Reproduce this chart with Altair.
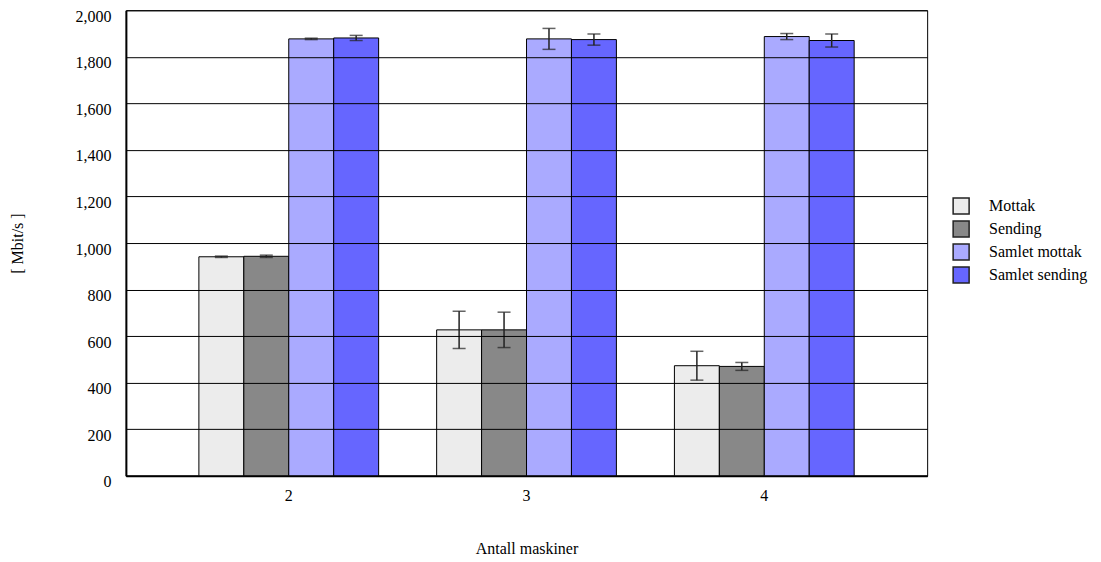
import altair as alt
import pandas as pd

groups = ["2", "3", "4"]
series = ["Mottak", "Sending", "Samlet mottak", "Samlet sending"]
colors = ["#ececec", "#888888", "#aaaaff", "#6666ff"]

mottak = [941, 627, 473]
sending = [943, 627, 470]
samlet_mottak = [1877, 1877, 1887]
samlet_sending = [1881, 1874, 1870]

mottak_err = [3, 80, 62]
sending_err = [5, 76, 17]
samlet_mottak_err = [3, 45, 13]
samlet_sending_err = [11, 24, 28]

rows = []
for s, vals, errs in zip(series,
                         [mottak, sending, samlet_mottak, samlet_sending],
                         [mottak_err, sending_err, samlet_mottak_err, samlet_sending_err]):
    for g, v, e in zip(groups, vals, errs):
        rows.append({"group": g, "series": s, "value": v, "lo": v - e, "hi": v + e})
df = pd.DataFrame(rows)

FONT = "Liberation Serif, DejaVu Serif, serif"

x_enc = alt.X(
    "group:N",
    title="Antall maskiner",
    scale=alt.Scale(paddingInner=0.244, paddingOuter=0.307),
    axis=alt.Axis(labelAngle=0, ticks=False, domainWidth=2, domainColor="black",
                  labelFontSize=16, labelPadding=12, titleFontSize=16, labelFont=FONT,
                  titleFont=FONT, titlePadding=37, titleFontWeight="normal", grid=False),
)
xo_enc = alt.XOffset("series:N", sort=series,
                     scale=alt.Scale(paddingInner=0, paddingOuter=0))

base = alt.Chart(df)

bars = base.mark_bar(stroke="black", strokeWidth=1, opacity=1).encode(
    x=x_enc,
    xOffset=xo_enc,
    y=alt.Y("value:Q", title="[ Mbit/s ]",
            scale=alt.Scale(domain=[0, 2000]),
            axis=alt.Axis(values=list(range(0, 2001, 200)), format=",.0f",
                          ticks=False, domainWidth=2, domainColor="black",
                          gridColor="black", gridWidth=1, gridOpacity=1,
                          labelFontSize=16, labelPadding=15, labelOffset=6,
                          labelFont=FONT, titleFont=FONT,
                          titleFontSize=16, titleFontWeight="normal",
                          titlePadding=49, zindex=1)),
    color=alt.Color("series:N", sort=series,
                    scale=alt.Scale(domain=series, range=colors),
                    legend=alt.Legend(title=None, orient="none", legendX=827, legendY=187,
                                      symbolType="square", symbolSize=256,
                                      symbolStrokeColor="#222222", symbolStrokeWidth=1.5,
                                      labelFont=FONT,
                                      labelFontSize=16, labelOffset=19, rowPadding=1)),
)

rules = base.mark_rule(color="#222222", strokeWidth=1.5).encode(
    x="group:N", xOffset=xo_enc, y="lo:Q", y2="hi:Q")
cap_lo = base.mark_tick(color="#222222", thickness=1.5, size=13).encode(
    x="group:N", xOffset=xo_enc, y="lo:Q")
cap_hi = base.mark_tick(color="#222222", thickness=1.5, size=13).encode(
    x="group:N", xOffset=xo_enc, y="hi:Q")

chart = alt.layer(bars, rules, cap_lo, cap_hi).properties(
    width=802, height=466, padding={"left": 2, "top": 0, "right": 5, "bottom": 5}
).configure(font=FONT).configure_view(stroke="black", strokeWidth=1).configure_axis(
    labelColor="black", titleColor="black"
).configure_legend(labelColor="black")

chart.save("out.html", embed_options={"renderer": "svg", "actions": False})
